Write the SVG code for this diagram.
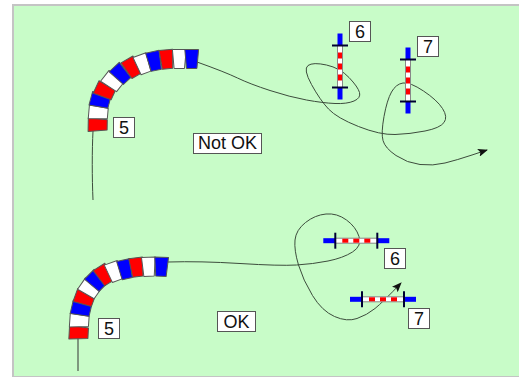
<svg xmlns="http://www.w3.org/2000/svg" width="519" height="377" viewBox="0 0 519 377">
<style>
.c{fill:none;stroke:#3c4c3c;stroke-width:1}
.r{fill:#f00}
.w{fill:#fff}
.b{fill:#00f}
.l{fill:#fff;stroke:#555;stroke-width:1}
.t{font-family:"Liberation Sans",Arial,sans-serif;font-size:18px;fill:#111;text-anchor:middle}
.bar{fill:#00f}
.tick{stroke:#003;stroke-width:2}
</style>
<defs>
<marker id="a" markerWidth="11" markerHeight="8" refX="9" refY="4" orient="auto" markerUnits="userSpaceOnUse"><path d="M0 0L10 4L0 8L2 4Z" fill="#111"/></marker>
<path id="seg" d="M-9.500 -6.900L9.500 -5.200L9.500 5.200L-9.500 6.900Z" stroke="#555" stroke-width="1" stroke-linejoin="round"/>
<g id="sb">
<rect x="-21" y="-2.500" width="42" height="5" fill="#fff" stroke="#888" stroke-width="1"/>
<rect x="-14" y="-2" width="6" height="4" fill="#f00"/><rect x="-3" y="-2" width="6" height="4" fill="#f00"/><rect x="8" y="-2" width="6" height="4" fill="#f00"/>
<rect x="-33" y="-2.500" width="12" height="5" class="bar"/><rect x="21" y="-2.500" width="12" height="5" class="bar"/>
<line x1="-21" y1="-8" x2="-21" y2="8" class="tick"/><line x1="21" y1="-8" x2="21" y2="8" class="tick"/>
</g>
</defs>
<rect width="519" height="377" fill="#fff"/>
<rect x="12" y="4" width="507" height="373" fill="#c4c4c4"/>
<rect x="14" y="6" width="505" height="370" fill="#c8fcc8"/>
<g id="connectors">
<path class="c" d="M93 131C92 150 92 178 93 200"/>
<path class="c" marker-end="url(#a)" d="M197 62Q225 72 237.500 78Q250 84 270 90.500Q290 97 306.500 100Q323 103 335 103.500Q347 104 354 101Q361 98 359.500 92.500Q358 87 349 77.500Q340 68 326.500 65Q313 62 308 65.500Q303 69 311.500 84.500Q320 100 328.500 109Q337 118 358.500 126.500Q380 135 395 134.500Q410 134 425 131Q440 128 444 122.500Q448 117 442.500 108.500Q437 100 423.500 91Q410 82 403 83Q396 84 391.500 92Q387 100 384 116.500Q381 133 383 140.500Q385 148 396 155.500Q407 163 420 164.500Q433 166 445 163Q457 160 472 155L487 150"/>
<path class="c" marker-end="url(#a)" d="M168 262Q200 261 240 263.500Q280 266 296.500 265Q313 264 328 261Q343 258 352.500 252Q362 246 359 236.500Q356 227 346.500 220Q337 213 326 214Q315 215 305.500 222.500Q296 230 295 240Q294 250 298.500 265Q303 280 312.500 295.500Q322 311 334.500 316.500Q347 322 357 318.500Q367 315 375 308.500Q383 302 401 283"/>
<path class="c" d="M78 338V371" style="stroke:#667766;stroke-width:1.500"/>
</g>
<g id="chain-top">
<use href="#seg" class="r" transform="translate(97.700 124.700) rotate(1)"/>
<use href="#seg" class="w" transform="translate(98.300 112.700) rotate(5)"/>
<use href="#seg" class="b" transform="translate(100 100.700) rotate(15)"/>
<use href="#seg" class="r" transform="translate(104.700 91) rotate(25)"/>
<use href="#seg" class="w" transform="translate(112.300 81.700) rotate(38)"/>
<use href="#seg" class="b" transform="translate(120.700 74) rotate(47)"/>
<use href="#seg" class="r" transform="translate(131.700 67.700) rotate(60)"/>
<use href="#seg" class="w" transform="translate(142.700 64) rotate(70)"/>
<use href="#seg" class="b" transform="translate(154.300 61) rotate(78)"/>
<use href="#seg" class="r" transform="translate(166.700 59.300) rotate(85)"/>
<use href="#seg" class="w" transform="translate(179.300 59) rotate(90)"/>
<use href="#seg" class="b" transform="translate(191.700 59) rotate(90)"/>
</g>
<g id="chain-bottom">
<use href="#seg" class="r" transform="translate(78.700 332.700) rotate(3)"/>
<use href="#seg" class="w" transform="translate(79.300 320.700) rotate(4)"/>
<use href="#seg" class="b" transform="translate(81 309) rotate(13)"/>
<use href="#seg" class="r" transform="translate(84.300 298.300) rotate(20)"/>
<use href="#seg" class="w" transform="translate(89.300 289) rotate(35)"/>
<use href="#seg" class="b" transform="translate(96 281) rotate(45)"/>
<use href="#seg" class="r" transform="translate(104 275) rotate(58)"/>
<use href="#seg" class="w" transform="translate(114 271.700) rotate(70)"/>
<use href="#seg" class="b" transform="translate(125.300 269.300) rotate(78)"/>
<use href="#seg" class="r" transform="translate(136.700 267.300) rotate(83)"/>
<use href="#seg" class="w" transform="translate(148.700 266.700) rotate(88)"/>
<use href="#seg" class="b" transform="translate(161.300 266.700) rotate(92)"/>
</g>
<g id="n5-top"><rect class="l" x="113.500" y="117.500" width="21" height="20"/><text class="t" x="124" y="134">5</text></g>
<g id="n5-bot"><rect class="l" x="98.500" y="318.500" width="21" height="20"/><text class="t" x="109" y="335">5</text></g>
<g id="n6-top"><rect class="l" x="349.500" y="21.500" width="21" height="20"/><text class="t" x="360" y="38">6</text></g>
<use id="bar6-top" href="#sb" transform="translate(340 66.500) rotate(90)"/>
<g id="n7-top"><rect class="l" x="417.500" y="36.500" width="21" height="20"/><text class="t" x="428" y="53">7</text></g>
<use id="bar7-top" href="#sb" transform="translate(408 80.500) rotate(90)"/>
<g id="n6-bot"><rect class="l" x="384.500" y="248.500" width="21" height="20"/><text class="t" x="395" y="265">6</text></g>
<use id="bar6-bot" href="#sb" transform="translate(356.300 240.700)"/>
<g id="n7-bot"><rect class="l" x="408.500" y="308.500" width="21" height="20"/><text class="t" x="419" y="325">7</text></g>
<use id="bar7-bot" href="#sb" transform="translate(383 299.300)"/>
<g id="not-ok"><rect class="l" x="193.500" y="133.500" width="68" height="20"/><text class="t" x="227.500" y="149">Not OK</text></g>
<g id="ok"><rect class="l" x="217.500" y="311.500" width="38" height="20"/><text class="t" x="236.500" y="327.500">OK</text></g>
</svg>
